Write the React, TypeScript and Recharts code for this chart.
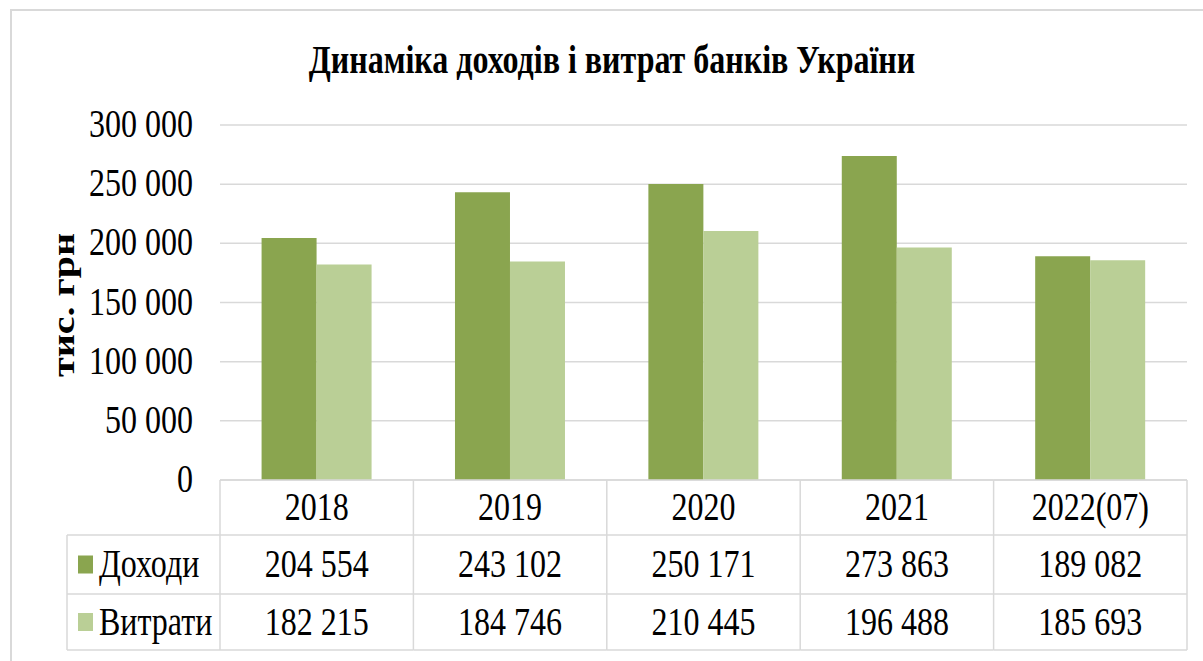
import React from "react";
import { BarChart, Bar, XAxis, YAxis, CartesianGrid } from "recharts";

const years = ["2018", "2019", "2020", "2021", "2022(07)"];
const income = [204554, 243102, 250171, 273863, 189082];
const expenses = [182215, 184746, 210445, 196488, 185693];
const yTicks = [0, 50000, 100000, 150000, 200000, 250000, 300000];
const seriesNames = ["Доходи", "Витрати"];

const data = years.map((year, i) => ({
  year,
  income: income[i],
  expenses: expenses[i],
}));

const W = 1203;
const H = 661;
const PLOT_LEFT = 220;
const PLOT_RIGHT = 16;
const PLOT_TOP = 125;
const PLOT_BOTTOM = 181;
const BAND = (W - PLOT_LEFT - PLOT_RIGHT) / years.length;
const ROW = [55, 59, 56];
const LEGEND_LEFT = 67;

const DARK = "#8aa54f";
const LIGHT = "#bacf96";
const LINE = "#d9d9d9";
const FONT = "'Liberation Serif', 'Times New Roman', serif";

const fmt = (n: number) => String(n).replace(/\B(?=(\d{3})+(?!\d))/g, " ");

const SText = ({ x, y, anchor = "middle", size = 40, bold = false, children }: any) => (
  <text
    transform={`translate(${x},${y}) scale(0.8,1)`}
    textAnchor={anchor}
    fontFamily={FONT}
    fontSize={size}
    fontWeight={bold ? 700 : 400}
    fill="#000"
  >
    {children}
  </text>
);

const YTick = ({ x, y, payload }: any) => (
  <SText x={x} y={y + 12} anchor="end">
    {fmt(payload.value)}
  </SText>
);

// x axis drawn as a data table: year row + one row per series
const TableTick = ({ x, y, payload, index }: any) => {
  const i = index ?? years.indexOf(payload.value);
  const left = x - BAND / 2;
  const right = x + BAND / 2;
  const r1 = y + ROW[0];
  const r2 = r1 + ROW[1];
  const r3 = r2 + ROW[2];
  const rows = [income, expenses];
  return (
    <g>
      <line x1={left} x2={right} y1={y} y2={y} stroke={LINE} strokeWidth={1.5} />
      <line x1={left} x2={right} y1={r1} y2={r1} stroke={LINE} strokeWidth={1.5} />
      <line x1={left} x2={right} y1={r2} y2={r2} stroke={LINE} strokeWidth={1.5} />
      <line x1={left} x2={right} y1={r3} y2={r3} stroke={LINE} strokeWidth={1.5} />
      <line x1={left} x2={left} y1={y} y2={r3} stroke={LINE} strokeWidth={1.5} />
      {i === years.length - 1 && (
        <line x1={right} x2={right} y1={y} y2={r3} stroke={LINE} strokeWidth={1.5} />
      )}
      <SText x={x} y={y + ROW[0] / 2 + 12.5}>{payload.value}</SText>
      <SText x={x} y={r1 + ROW[1] / 2 + 12.5}>{fmt(rows[0][i])}</SText>
      <SText x={x} y={r2 + ROW[2] / 2 + 12.5}>{fmt(rows[1][i])}</SText>
      {i === 0 && (
        <g>
          <line x1={LEGEND_LEFT} x2={left} y1={r1} y2={r1} stroke={LINE} strokeWidth={1.5} />
          <line x1={LEGEND_LEFT} x2={left} y1={r2} y2={r2} stroke={LINE} strokeWidth={1.5} />
          <line x1={LEGEND_LEFT} x2={left} y1={r3} y2={r3} stroke={LINE} strokeWidth={1.5} />
          <line x1={LEGEND_LEFT} x2={LEGEND_LEFT} y1={r1} y2={r3} stroke={LINE} strokeWidth={1.5} />
          {seriesNames.map((name, k) => {
            const top = k === 0 ? r1 : r2;
            const h = ROW[k + 1];
            return (
              <g key={name}>
                <rect x={LEGEND_LEFT + 11} y={top + h / 2 - 9} width={15} height={18} fill={k === 0 ? DARK : LIGHT} />
                <SText x={LEGEND_LEFT + 32} y={top + h / 2 + 12.5} anchor="start">
                  {name}
                </SText>
              </g>
            );
          })}
        </g>
      )}
    </g>
  );
};

export default function App() {
  return (
    <div style={{ position: "absolute", left: 0, top: 0, width: W, height: H, background: "#fff" }}>
      <div
        style={{
          position: "absolute",
          left: 10,
          top: 9,
          width: W,
          height: H,
          borderLeft: `2px solid ${LINE}`,
          borderTop: `2px solid ${LINE}`,
        }}
      />
      <div style={{ position: "absolute", left: 0, top: 0 }}>
        <BarChart
          width={W}
          height={H}
          data={data}
          margin={{ top: PLOT_TOP, right: PLOT_RIGHT, bottom: 0, left: PLOT_LEFT - 100 }}
          barGap={0}
          barCategoryGap="21.5%"
        >
          <CartesianGrid vertical={false} stroke={LINE} strokeWidth={1.5} />
          <XAxis
            dataKey="year"
            height={PLOT_BOTTOM}
            axisLine={false}
            tickLine={false}
            tickSize={0}
            tickMargin={0}
            interval={0}
            tick={<TableTick />}
          />
          <YAxis
            width={100}
            domain={[0, 300000]}
            ticks={yTicks}
            axisLine={false}
            tickLine={false}
            tickSize={0}
            tickMargin={27}
            tick={<YTick />}
          />
          <Bar dataKey="income" name={seriesNames[0]} fill={DARK} isAnimationActive={false} />
          <Bar dataKey="expenses" name={seriesNames[1]} fill={LIGHT} isAnimationActive={false} />
        </BarChart>
      </div>
      <svg
        width={W}
        height={H}
        style={{ position: "absolute", left: 0, top: 0, pointerEvents: "none" }}
      >
        <SText x={612} y={73} bold>
          Динаміка доходів і витрат банків України
        </SText>
        <text
          transform="translate(74,305) scale(0.8,1) rotate(-90)"
          textAnchor="middle"
          fontFamily={FONT}
          fontSize={40}
          fontWeight={700}
        >
          тис. грн
        </text>
      </svg>
    </div>
  );
}
